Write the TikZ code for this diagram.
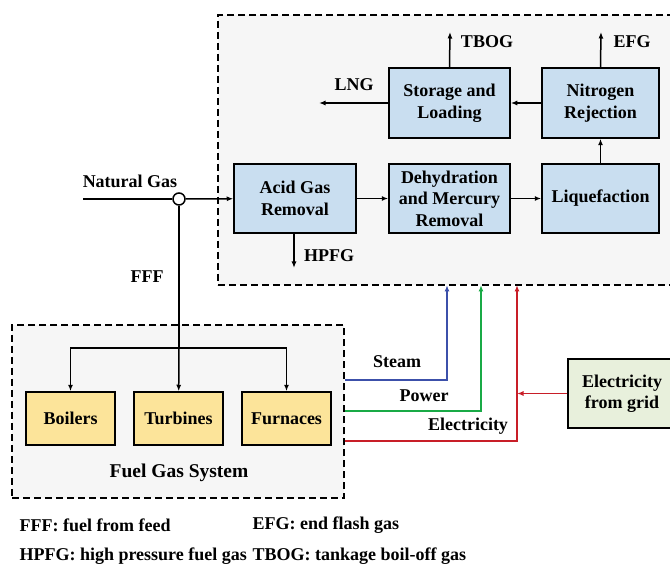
\documentclass[tikz,border=0pt]{standalone}
\usepackage{fontspec}
\setmainfont{Liberation Serif}
\usepackage{tikz}
\usetikzlibrary{arrows.meta}

\definecolor{procfill}{RGB}{201,222,240}
\definecolor{fuelfill}{RGB}{252,228,154}
\definecolor{gridfill}{RGB}{232,240,220}
\definecolor{bgfill}{RGB}{246,246,246}
\definecolor{steamcol}{RGB}{60,80,170}
\definecolor{powercol}{RGB}{25,170,70}
\definecolor{eleccol}{RGB}{200,30,40}

\tikzset{
	every node/.style={font=\fontsize{18}{21.5}\selectfont\bfseries},
	flow/.style={line width=1.5pt,-{Latex[length=6.5pt,width=5pt]}},
	proc/.style={draw,line width=1.5pt,fill=procfill,align=center,minimum height=69pt,inner sep=0pt},
	fuelbox/.style={draw,line width=1.5pt,fill=fuelfill,minimum width=89pt,minimum height=53pt},
	area/.style={draw,line width=1.2pt,dash pattern=on 7pt off 4pt,fill=bgfill,inner sep=0pt},
}

\begin{document}
\begin{tikzpicture}[x=1pt,y=-1pt]
	\clip (0,0) rectangle (670,564);

	% dashed areas
	\node[area,minimum width=456pt,minimum height=270pt] (plant) at (446,150) {};
	\node[area,minimum width=332pt,minimum height=173pt] (fgs) at (178,411.5) {};

	% process units
	\node[proc,minimum width=122pt] (acid) at (295,198.5) {Acid Gas\\Removal};
	\node[proc,minimum width=121pt] (dehyd) at (449.5,198.5) {Dehydration\\and Mercury\\Removal};
	\node[proc,minimum width=117pt] (liq) at (600.5,198.5) {Liquefaction};
	\node[proc,minimum width=121pt,minimum height=70pt] (store) at (449.5,103) {Storage and\\Loading};
	\node[proc,minimum width=117pt,minimum height=70pt] (nitro) at (600.5,103) {Nitrogen\\Rejection};

	% fuel gas users
	\node[fuelbox] (boil) at (70.5,418.5) {Boilers};
	\node[fuelbox] (turb) at (178.5,418.5) {Turbines};
	\node[fuelbox] (furn) at (286.5,418.5) {Furnaces};
	\node[draw,line width=1.5pt,fill=gridfill,align=center,minimum width=108pt,minimum height=69pt] (grid) at (622,393.5) {Electricity\\from grid};

	\node[draw,line width=1.5pt,fill=white,circle,minimum size=12pt,inner sep=0pt] (junc) at (179,199) {};

	% free ends
	\coordinate (ngin) at (83,199);
	\coordinate (lng) at (319,103);
	\coordinate (tbog) at (450,32);
	\coordinate (efg) at (601,32);
	\coordinate (hpfg) at (294,268);
	\coordinate (split) at (179,348);
	\coordinate (stmin) at (447,285);
	\coordinate (pwrin) at (481,285);
	\coordinate (elcin) at (517,285);

	\draw[line width=1.5pt] (ngin) -- (junc);
	\draw[flow] (junc) -- (acid);
	\draw[flow] (acid) -- (dehyd);
	\draw[flow] (dehyd) -- (liq);
	\draw[flow] (liq) -- (nitro);
	\draw[flow] (nitro) -- (store);
	\draw[flow] (store) -- (lng);
	\draw[flow] (store.north) -- (tbog);
	\draw[flow] (nitro.north) -- (efg);
	\draw[flow] ([xshift=-1pt]acid.south) -- (hpfg);

	\draw[line width=1.5pt] (junc) -- (split);
	\draw[flow] (split) -| (boil);
	\draw[flow] (split) -| (furn);
	\draw[flow] (split) -- (turb);

	\draw[flow,steamcol] (fgs.east |- 0,380) -| (stmin);
	\draw[flow,powercol] (fgs.east |- 0,411) -| (pwrin);
	\draw[flow,eleccol] (fgs.east |- 0,441) -| (elcin);
	\draw[flow,eleccol] (grid.west) -- (grid.west -| elcin);

	% labels
	\node at (130,181) {Natural Gas};
	\node at (354,85) {LNG};
	\node at (487,42) {TBOG};
	\node at (632,42) {EFG};
	\node at (329,256) {HPFG};
	\node at (147,277) {FFF};
	\node at (179,473) {\fontsize{19.5}{21}\selectfont Fuel Gas System};
	\node at (397,362) {Steam};
	\node at (424,396) {Power};
	\node at (468,426) {Electricity};

	\node[anchor=west] at (16,525) {FFF: fuel from feed};
	\node[anchor=west] at (16,556) {HPFG: high pressure fuel gas};
	\node[anchor=west] at (249,525) {EFG: end flash gas};
	\node[anchor=west] at (249,556) {TBOG: tankage boil-off gas};
\end{tikzpicture}
\end{document}
